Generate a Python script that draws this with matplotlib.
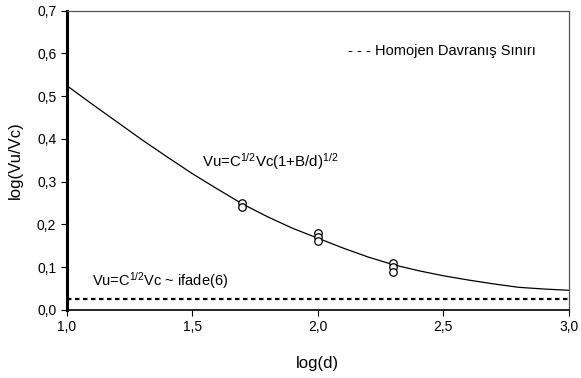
import matplotlib
matplotlib.use('Agg')
import matplotlib.pyplot as plt
from matplotlib.ticker import FuncFormatter

plt.rcParams['font.family'] = ['Liberation Sans', 'DejaVu Sans']
plt.rcParams['mathtext.fontset'] = 'custom'
plt.rcParams['mathtext.rm'] = 'Liberation Sans'
plt.rcParams['mathtext.it'] = 'Liberation Sans:italic'

# curve
curve_x = [1.0, 1.1, 1.2, 1.3, 1.4, 1.5, 1.6, 1.7, 1.8, 1.9, 2.0,
           2.1, 2.2, 2.3, 2.4, 2.5, 2.6, 2.7, 2.8, 2.9, 3.0]
curve_y = [0.525, 0.482, 0.440, 0.398, 0.358, 0.319, 0.283, 0.248, 0.218, 0.191, 0.168,
           0.145, 0.124, 0.106, 0.092, 0.080, 0.070, 0.061, 0.053, 0.049, 0.046]

# measured points
pts_x = [1.7, 1.7, 2.0, 2.0, 2.0, 2.3, 2.3, 2.3]
pts_y = [0.251, 0.240, 0.180, 0.170, 0.162, 0.109, 0.100, 0.088]

# homogeneous behaviour limit
limit_y = 0.025

fig = plt.figure(figsize=(5.81, 3.78), dpi=100)
ax = fig.add_axes([0.1148, 0.18, 0.8642, 0.7917])

ax.plot(curve_x, curve_y, color='black', linewidth=0.9)
ax.plot(pts_x, pts_y, 'o', markerfacecolor='white', markeredgecolor='black',
        markersize=5.4, markeredgewidth=0.9)
ax.axhline(limit_y, color='black', linewidth=1.6, linestyle=(0, (2, 1.6)))

ax.set_xlim(1.0, 3.0)
ax.set_ylim(0.0, 0.7)
ax.set_xticks([1.0, 1.5, 2.0, 2.5, 3.0])
ax.set_yticks([0.0, 0.1, 0.2, 0.3, 0.4, 0.5, 0.6, 0.7])
fmt = FuncFormatter(lambda v, p: ('%.1f' % v).replace('.', ','))
ax.xaxis.set_major_formatter(fmt)
ax.yaxis.set_major_formatter(fmt)
ax.tick_params(direction='out', length=4, width=0.8, labelsize=10, colors='black')

ax.spines['left'].set_linewidth(2.2)
ax.spines['bottom'].set_linewidth(1.2)
ax.spines['top'].set_color('#555555')
ax.spines['right'].set_color('#555555')
ax.spines['top'].set_linewidth(0.9)
ax.spines['right'].set_linewidth(0.9)

ax.set_xlabel('log(d)', fontsize=12, labelpad=15.5)
ax.set_ylabel('log(Vu/Vc)', fontsize=12, labelpad=10)

ax.text(1.54, 0.334, r'Vu=C$^{\mathregular{1/2}}$Vc(1+B/d)$^{\mathregular{1/2}}$',
        fontsize=10.8, va='baseline')
ax.text(1.102, 0.056, r'Vu=C$^{\mathregular{1/2}}$Vc ~ ifade(6)',
        fontsize=10.5, va='baseline')
ax.text(2.122, 0.597, '- - - Homojen Davranış Sınırı', fontsize=10.5, va='baseline')

fig.savefig('out.png', dpi=100)
